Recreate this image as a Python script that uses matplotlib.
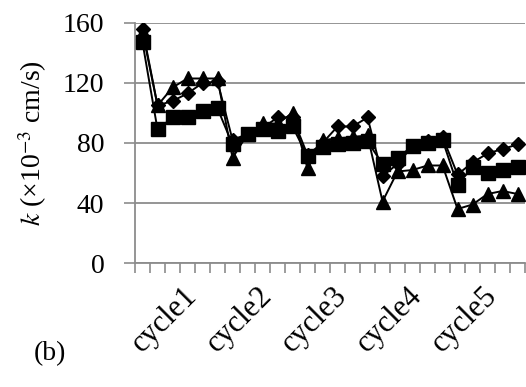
import matplotlib
matplotlib.use("Agg")
import matplotlib.pyplot as plt
import matplotlib.transforms as mtransforms
import numpy as np

plt.rcParams['font.family'] = ['Liberation Serif', 'DejaVu Serif']
plt.rcParams['mathtext.fontset'] = 'stix'

# k values (x10^-3 cm/s) for the 26 measurements, three series
k_triangle = [154, 105, 117, 123, 123, 123, 70, 86, 93, 93, 100, 63, 82, 83, 84, 85,
              41, 61, 62, 65, 65, 36, 39, 46, 48, 46]
k_diamond = [156, 105, 108, 113, 120, 121, 82, 86, 90, 97, 97, 72, 80, 91, 91, 97,
             58, 66, 78, 81, 84, 59, 67, 73, 76, 79]
k_square = [147, 89, 97, 97, 101, 103, 79, 86, 89, 88, 91, 71, 77, 79, 80, 81,
            66, 70, 78, 80, 82, 52, 64, 60, 62, 64]
labels = ["", "", "", "cycle1", "", "", "", "", "cycle2", "", "", "", "", "cycle3",
          "", "", "", "", "cycle4", "", "", "", "", "cycle5", "", ""]

x = np.arange(len(k_square))
grey = "#8c8c8c"

fig = plt.figure(figsize=(5.26, 3.87), dpi=100)
ax = fig.add_axes([0.2567, 0.3204, 0.7415, 0.6202])

ax.plot(x, k_triangle, color="black", lw=1.4, marker="^", ms=10, zorder=3)
ax.plot(x, k_diamond, color="black", lw=1.4, marker="D", ms=7, zorder=4)
ax.plot(x, k_square, color="black", lw=1.4, marker="s", ms=9.5, zorder=5)

ax.set_xlim(-0.5, len(x) - 0.5)
ax.set_ylim(0, 160)
ax.set_yticks([0, 40, 80, 120, 160])
ax.yaxis.grid(True, color=grey, lw=1.3)
ax.set_axisbelow(True)

ax.set_xticks(x)
ax.set_xticklabels(labels, rotation=45, ha="right", va="top", rotation_mode="anchor")
ax.set_xticks(np.arange(len(x) + 1) - 0.5, minor=True)
ax.tick_params(axis="x", which="major", length=0, pad=13, labelsize=22)
ax.tick_params(axis="x", which="minor", length=7, width=1.2, color=grey)
ax.tick_params(axis="y", length=8, width=1.2, color=grey, pad=14, labelsize=20)
shift = mtransforms.ScaledTranslation(-5 / 100, 0, fig.dpi_scale_trans)
for lab in ax.get_xticklabels():
    lab.set_transform(lab.get_transform() + shift)

for s in ["top", "right"]:
    ax.spines[s].set_visible(False)
for s in ["left", "bottom"]:
    ax.spines[s].set_color(grey)
    ax.spines[s].set_linewidth(1.3)

ax.set_ylabel(r"$k$ (×10$^{\mathrm{-3}}$ cm/s)", fontsize=20, labelpad=10)
fig.text(0.095, 0.085, "(b)", fontsize=20, ha="center", va="center")

fig.savefig("out.png", dpi=100)
